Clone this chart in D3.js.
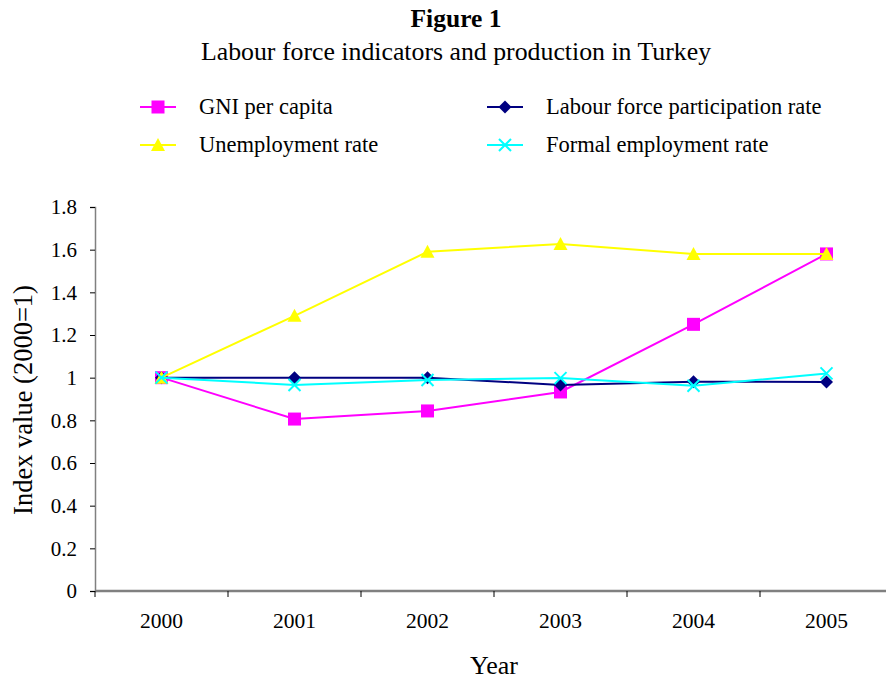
<!DOCTYPE html>
<html>
<head>
<meta charset="utf-8">
<script src="https://cdn.jsdelivr.net/npm/d3@7"></script>
<style>
  body { margin: 0; background: #fff; }
  text { font-family: 'Liberation Serif', 'Times New Roman', serif; fill: #000; }
</style>
</head>
<body>
<div id="chart"></div>
<script>
// Labour force indicators and production in Turkey (index, 2000=1)
var years = ['2000', '2001', '2002', '2003', '2004', '2005'];
var gniPerCapita = [1.00, 0.806, 0.844, 0.933, 1.25, 1.58];
var labourForce = [1.00, 1.00, 1.00, 0.966, 0.981, 0.98];
var unemployment = [1.00, 1.29, 1.59, 1.627, 1.58, 1.58];
var formalEmployment = [1.00, 0.966, 0.989, 0.998, 0.962, 1.02];
var yTicks = [0, 0.2, 0.4, 0.6, 0.8, 1, 1.2, 1.4, 1.6, 1.8];

var series = [
    {name: 'GNI per capita', values: gniPerCapita, color: '#ff00ff', symbol: 'square'},
    {name: 'Labour force participation rate', values: labourForce, color: '#000080', symbol: 'diamond'},
    {name: 'Unemployment rate', values: unemployment, color: '#ffff00', symbol: 'triangle'},
    {name: 'Formal employment rate', values: formalEmployment, color: '#00ffff', symbol: 'cross'}
];

var width = 886, height = 680;
var margin = {top: 207, right: -7, bottom: 89, left: 95};
var serif = "'Liberation Serif', 'Times New Roman', serif";

var svg = d3.select('#chart').append('svg')
    .attr('width', width)
    .attr('height', height);

var x = d3.scaleBand()
    .domain(years)
    .range([margin.left, width - margin.right]);

var y = d3.scaleLinear()
    .domain([0, 1.8])
    .range([height - margin.bottom, margin.top]);

// Title
svg.append('text')
    .attr('x', 456).attr('y', 27)
    .attr('text-anchor', 'middle')
    .style('font-size', '25.5px')
    .style('font-weight', 'bold')
    .text('Figure 1');
svg.append('text')
    .attr('x', 456).attr('y', 60)
    .attr('text-anchor', 'middle')
    .style('font-size', '25.8px')
    .text('Labour force indicators and production in Turkey');

// Marker drawing
function marker(g, s, cx, cy) {
    if (s.symbol === 'square') {
        g.append('rect')
            .attr('x', cx - 6.5).attr('y', cy - 6.5)
            .attr('width', 13).attr('height', 13)
            .style('fill', s.color);
    } else if (s.symbol === 'diamond') {
        g.append('path')
            .attr('d', 'M' + cx + ',' + (cy - 6.5) + 'L' + (cx + 6.5) + ',' + cy +
                'L' + cx + ',' + (cy + 6.5) + 'L' + (cx - 6.5) + ',' + cy + 'Z')
            .style('fill', s.color);
    } else if (s.symbol === 'triangle') {
        g.append('path')
            .attr('d', 'M' + cx + ',' + (cy - 7) + 'L' + (cx + 7) + ',' + (cy + 6) +
                'L' + (cx - 7) + ',' + (cy + 6) + 'Z')
            .style('fill', s.color);
    } else {
        g.append('path')
            .attr('d', 'M' + (cx - 6) + ',' + (cy - 6) + 'L' + (cx + 6) + ',' + (cy + 6) +
                'M' + (cx + 6) + ',' + (cy - 6) + 'L' + (cx - 6) + ',' + (cy + 6))
            .style('fill', 'none')
            .style('stroke', s.color)
            .style('stroke-width', 2);
    }
}

// Legend
var legendPos = [[140, 107], [487, 107], [140, 145], [487, 145]];
series.forEach(function(s, i) {
    var p = legendPos[i];
    var g = svg.append('g');
    g.append('line')
        .attr('x1', p[0]).attr('x2', p[0] + 36)
        .attr('y1', p[1]).attr('y2', p[1])
        .style('stroke', s.color).style('stroke-width', 2);
    marker(g, s, p[0] + 18, p[1]);
    g.append('text')
        .attr('x', p[0] + 59).attr('y', p[1] + 7)
        .style('font-size', '22.5px')
        .text(s.name);
});

// Axes
var yAxis = svg.append('g')
    .attr('transform', 'translate(' + margin.left + ',0)')
    .call(d3.axisLeft(y).tickValues(yTicks).tickSize(5).tickPadding(13)
        .tickFormat(function(d) { return String(d); }));
yAxis.select('.domain').style('stroke', '#808080').style('stroke-width', 1.5);
yAxis.selectAll('.tick line').style('stroke', '#000');
yAxis.selectAll('text').style('font-size', '21px')
    .style('font-family', serif);

var xAxis = svg.append('g')
    .attr('transform', 'translate(0,' + (height - margin.bottom) + ')')
    .call(d3.axisBottom(x).tickSize(0).tickPadding(22));
xAxis.select('.domain').remove();
xAxis.append('line')
    .attr('x1', margin.left).attr('x2', width)
    .style('stroke', '#808080').style('stroke-width', 2.5);
xAxis.selectAll('.tick text').style('font-size', '21.5px')
    .style('font-family', serif);
// boundary ticks between categories
xAxis.selectAll('line.bound')
    .data(years)
    .enter().append('line')
    .attr('class', 'bound')
    .attr('x1', function(d) { return x(d); })
    .attr('x2', function(d) { return x(d); })
    .attr('y1', 0).attr('y2', 6)
    .style('stroke', '#000');

// Axis titles
svg.append('text')
    .attr('transform', 'translate(32,' + 400 + ') rotate(-90)')
    .attr('text-anchor', 'middle')
    .style('font-size', '26.5px')
    .text('Index value (2000=1)');
svg.append('text')
    .attr('x', 494).attr('y', 674)
    .attr('text-anchor', 'middle')
    .style('font-size', '26px')
    .text('Year');

// Lines and markers
var line = d3.line()
    .x(function(d, i) { return x(years[i]) + x.bandwidth() / 2; })
    .y(function(d) { return y(d); });

series.forEach(function(s) {
    var g = svg.append('g');
    g.append('path')
        .datum(s.values)
        .attr('d', line)
        .style('fill', 'none')
        .style('stroke', s.color)
        .style('stroke-width', 2);
    s.values.forEach(function(v, i) {
        marker(g, s, x(years[i]) + x.bandwidth() / 2, y(v));
    });
});
</script>
</body>
</html>
